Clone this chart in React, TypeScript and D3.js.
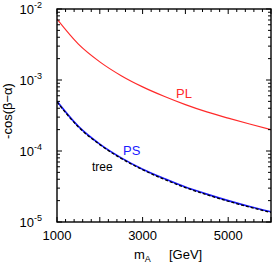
import * as d3 from "d3";

// m_A in GeV
const masses = [1000, 1500, 2000, 2500, 3000, 3500, 4000, 4500, 5000, 5500, 6000];
// -cos(beta - alpha)
const plValues = [7.2e-3, 3.2e-3, 1.8e-3, 1.15e-3, 8.0e-4, 5.9e-4, 4.5e-4, 3.55e-4, 2.9e-4, 2.4e-4, 2.0e-4];
const psValues = [5.0e-4, 2.22e-4, 1.25e-4, 8.0e-5, 5.55e-5, 4.1e-5, 3.1e-5, 2.47e-5, 2.0e-5, 1.65e-5, 1.39e-5];
const treeValues = [4.9e-4, 2.18e-4, 1.23e-4, 7.85e-5, 5.45e-5, 4.0e-5, 3.05e-5, 2.42e-5, 1.96e-5, 1.62e-5, 1.36e-5];

const xTickLabels = [1000, 3000, 5000];
const yDecades = [-2, -3, -4, -5];

const W = 272;
const H = 265;
const margin = { left: 57, right: 1, top: 9, bottom: 43 };
const font = "Arial, 'Liberation Sans', sans-serif";

function App() {
  const x = d3.scaleLinear().domain([1000, 6000]).range([margin.left, W - margin.right]);
  const y = d3.scaleLog().domain([1e-5, 1e-2]).range([H - margin.bottom, margin.top]);

  const line = (vals: number[]) =>
    d3
      .line<number>()
      .x((_, i) => x(masses[i]))
      .y((d) => y(d))
      .curve(d3.curveMonotoneX)(vals) as string;

  const x0 = x(1000);
  const x1 = x(6000);
  const y0 = y(1e-5);
  const y1 = y(1e-2);

  const xMinor = d3.range(1000, 6001, 200);
  const yMinor: number[] = [];
  for (let e = -5; e < -2; e++) for (let k = 2; k < 10; k++) yMinor.push(k * Math.pow(10, e));

  return (
    <svg width={W} height={H} style={{ position: "absolute", left: 0, top: 0 }} fontFamily={font}>
      <rect width={W} height={H} fill="white" />
      <defs>
        <clipPath id="plot">
          <rect x={x0} y={y1} width={x1 - x0} height={y0 - y1} />
        </clipPath>
      </defs>
      <g clipPath="url(#plot)" fill="none">
        <path d={line(plValues)} stroke="#ff2a2a" strokeWidth={1.2} />
        <path d={line(psValues)} stroke="#1a1aff" strokeWidth={1.6} />
        <path d={line(treeValues)} stroke="#000" strokeWidth={1.3} strokeDasharray="3,2" />
      </g>
      {/* ticks on all four sides, pointing in */}
      <g stroke="#000" strokeWidth={1}>
        {xMinor.map((v) => {
          const len = v % 1000 === 0 ? 5 : 3;
          return (
            <g key={"x" + v}>
              <line x1={x(v)} x2={x(v)} y1={y0} y2={y0 - len} />
              <line x1={x(v)} x2={x(v)} y1={y1} y2={y1 + len} />
            </g>
          );
        })}
        {yMinor.map((v, i) => (
          <g key={"ym" + i}>
            <line x1={x0} x2={x0 + 3} y1={y(v)} y2={y(v)} />
            <line x1={x1} x2={x1 - 3} y1={y(v)} y2={y(v)} />
          </g>
        ))}
        {yDecades.map((e) => (
          <g key={"yd" + e}>
            <line x1={x0} x2={x0 + 5} y1={y(Math.pow(10, e))} y2={y(Math.pow(10, e))} />
            <line x1={x1} x2={x1 - 5} y1={y(Math.pow(10, e))} y2={y(Math.pow(10, e))} />
          </g>
        ))}
      </g>
      <rect x={x0} y={y1} width={x1 - x0} height={y0 - y1} fill="none" stroke="#000" strokeWidth={1.4} />
      {/* tick labels */}
      {xTickLabels.map((v) => (
        <text key={"xl" + v} x={x(v)} y={y0 + 18} textAnchor="middle" fontSize={13}>
          {v}
        </text>
      ))}
      {yDecades.map((e) => (
        <text key={"yl" + e} x={x0 - 15} y={y(Math.pow(10, e)) + 5} textAnchor="end" fontSize={13}>
          10
          <tspan fontSize={9} dy={-6}>
            {e}
          </tspan>
        </text>
      ))}
      {/* axis titles */}
      <text x={134} y={259} fontSize={13}>
        m<tspan fontSize={9} dy={3}>A</tspan>
      </text>
      <text x={169} y={259} fontSize={13}>[GeV]</text>
      <text transform={`translate(12,111) rotate(-90)`} textAnchor="middle" fontSize={13}>
        -cos(β−α)
      </text>
      {/* curve labels */}
      <text x={176} y={98} fill="#ff2a2a" fontSize={13}>PL</text>
      <text x={123} y={155} fill="#1a1aff" fontSize={13}>PS</text>
      <text x={92} y={171} fill="#000" fontSize={12}>tree</text>
    </svg>
  );
}

export default App;
